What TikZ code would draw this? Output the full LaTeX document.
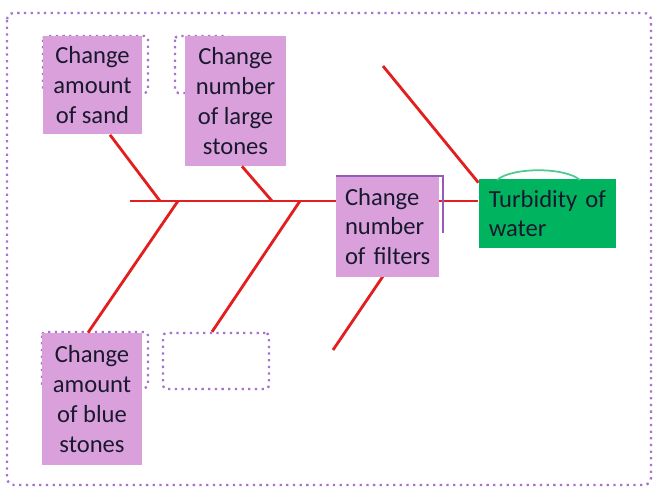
\documentclass[tikz,border=0pt]{standalone}
\usepackage{fontspec}
\setmainfont{Carlito}

\definecolor{causefill}{RGB}{218,160,220}
\definecolor{dotpurple}{RGB}{165,115,205}
\definecolor{edgepurple}{RGB}{150,90,185}
\definecolor{effectgreen}{RGB}{0,180,95}
\definecolor{bonered}{RGB}{226,30,30}
\definecolor{textdark}{RGB}{25,25,45}

\tikzset{
  cause/.style={fill=causefill, text=textdark, inner sep=0pt, align=center,
    font=\fontsize{14pt}{17pt}\selectfont},
  bone/.style={draw=bonered, line width=1.6pt},
  dots/.style={draw=dotpurple, line width=1.3pt, dash pattern=on 1.3pt off 2.5pt,
    rounded corners=2pt},
}

\begin{document}
\begin{tikzpicture}[x=0.02cm, y=-0.02cm]
  \useasboundingbox (0,0) rectangle (654,487);
  % outer frame
  \draw[dots, rounded corners=4pt] (7,13) rectangle (651,485);

  % spine and bone ends
  \coordinate (tail) at (130,201);
  \coordinate (j1) at (160,201);
  \coordinate (j2) at (178,201);
  \coordinate (j3) at (272,201);
  \coordinate (j4) at (300,201);
  \coordinate (j5) at (434,201);
  \coordinate (top) at (383,66);
  \coordinate (low) at (333,350);

  % dotted boxes behind
  \draw[dots] (43,36) rectangle (148,93);
  \draw[dots] (175,36) rectangle (230,93);
  \draw[dots] (42,332) rectangle (148,388);

  % boxes
  \node[cause, minimum width=1.98cm, minimum height=1.98cm] (sand) at (92.5,85)
    {Change\\amount\\of sand};
  \node[cause, minimum width=2.02cm, minimum height=2.6cm] (stones) at (235.5,101)
    {Change\\number\\of large\\stones};
  \node[cause, minimum width=2cm, minimum height=2.64cm] (blue) at (92,399)
    {Change\\amount\\of blue\\stones};
  \node[dots, minimum width=2.12cm, minimum height=1.12cm] (empty) at (216,361) {};
  \node[cause, fill=effectgreen, align=left, text width=2.35cm, inner xsep=0.2cm,
    minimum height=1.38cm] (water) at (547.5,213.5) {\mbox{Turbidity of}\\water};
  \draw[effectgreen!70, line width=1pt] (497,180) .. controls (512,167) and (565,167) .. (580,180);

  % bones
  \draw[bone] (tail) -- (tail -| water.west);
  \draw[bone] ([xshift=0.35cm]sand.south) -- (j1);
  \draw[bone] ([xshift=0.13cm]stones.south) -- (j3);
  \draw[bone] ([xshift=-0.08cm]blue.north) -- (j2);
  \draw[bone] ([xshift=-0.08cm]empty.north) -- (j4);
  \draw[bone] (top) -- ([yshift=-0.08cm]water.north west);
  \draw[bone] (j5) -- (low);

  \node[cause, align=left, text width=1.7cm, inner xsep=0.18cm,
    minimum height=2.02cm] (filters) at (387.5,226.5) {Change\\number\\\mbox{of filters}};
  \draw[edgepurple, line width=1pt] (filters.north west) -- ++(107,0) -- ++(0,57);
\end{tikzpicture}
\end{document}
